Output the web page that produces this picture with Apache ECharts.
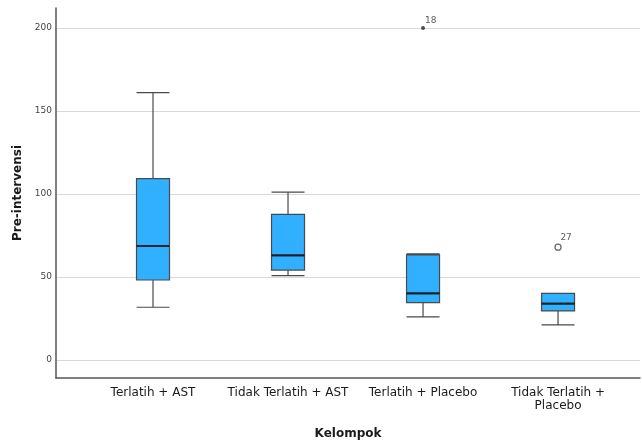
<!DOCTYPE html>
<html>
<head>
<meta charset="utf-8">
<script src="https://cdn.jsdelivr.net/npm/echarts@6/dist/echarts.min.js"></script>
<style>html,body{margin:0;padding:0;background:#fff}#c{width:642px;height:445px}</style>
</head>
<body>
<div id="c"></div>
<script>
const categories = ['Terlatih + AST', 'Tidak Terlatih + AST', 'Terlatih + Placebo', 'Tidak Terlatih +\nPlacebo'];
// [min, Q1, median, Q3, max]
const boxStats = [
  [31.8, 48.2, 68.7, 109.3, 161.1],
  [50.9, 54.2, 63.1, 87.7, 101.1],
  [26.0, 34.6, 40.2, 63.4, 64.0],
  [21.2, 29.6, 34.0, 40.2, 40.2]
];
const extremeOutliers = [[2, 200, '18']];
const mildOutliers = [[3, 68, '27']];
const yTicks = [0, 50, 100, 150, 200];

const font = 'DejaVu Sans';
const chart = echarts.init(document.getElementById('c'));
chart.setOption({
  animation: false,
  grid: { left: 56, right: 2, top: 8, bottom: 65 },
  xAxis: {
    type: 'value', min: -0.7185, max: 3.607,
    name: 'Kelompok', nameLocation: 'middle', nameGap: 50,
    nameTextStyle: { fontFamily: font, fontWeight: 'bold', fontSize: 12, color: '#1a1a1a' },
    axisLine: { show: true, onZero: false, lineStyle: { color: '#555', width: 1.5 } },
    axisTick: { show: false, customValues: [0, 1, 2, 3] },
    splitLine: { show: false },
    axisLabel: {
      customValues: [0, 1, 2, 3],
      formatter: v => categories[Math.round(v)],
      fontFamily: font, fontSize: 12, color: '#1a1a1a', margin: 8, lineHeight: 13
    }
  },
  yAxis: {
    type: 'value', min: -10.8, max: 212,
    name: 'Pre-intervensi', nameLocation: 'middle', nameGap: 22, nameRotate: 90,
    nameTextStyle: { fontFamily: font, fontWeight: 'bold', fontSize: 12, color: '#1a1a1a' },
    axisLine: { show: true, onZero: false, lineStyle: { color: '#555', width: 1.5 } },
    axisTick: { show: false, customValues: yTicks },
    axisLabel: { customValues: yTicks, fontFamily: font, fontSize: 9, color: '#444', margin: 4 },
    splitLine: { show: true, lineStyle: { color: '#d9d9d9', width: 1.2 } }
  },
  series: [
    {
      type: 'boxplot',
      boxWidth: [33, 33],
      data: boxStats.map((s, i) => [i].concat(s)),
      itemStyle: { color: '#30b0ff', borderColor: '#4a4a4a', borderWidth: 1.2 }
    },
    {
      type: 'scatter',
      symbol: 'rect', symbolSize: [33, 2.2],
      itemStyle: { color: '#111' },
      data: boxStats.map((s, i) => [i, s[2]]),
      z: 5
    },
    {
      type: 'scatter',
      symbol: 'circle', symbolSize: 4,
      itemStyle: { color: '#222' },
      data: extremeOutliers.map(d => ({ value: [d[0], d[1]], name: d[2] })),
      label: { show: true, formatter: p => p.name, position: [4, -10], fontFamily: font, fontSize: 9, color: '#333' }
    },
    {
      type: 'scatter',
      symbol: 'circle', symbolSize: 6,
      itemStyle: { color: '#fff', borderColor: '#444', borderWidth: 1.3 },
      data: mildOutliers.map(d => ({ value: [d[0], d[1]], name: d[2] })),
      label: { show: true, formatter: p => p.name, position: [6, -10], fontFamily: font, fontSize: 9, color: '#333' }
    }
  ]
});
</script>
</body>
</html>
